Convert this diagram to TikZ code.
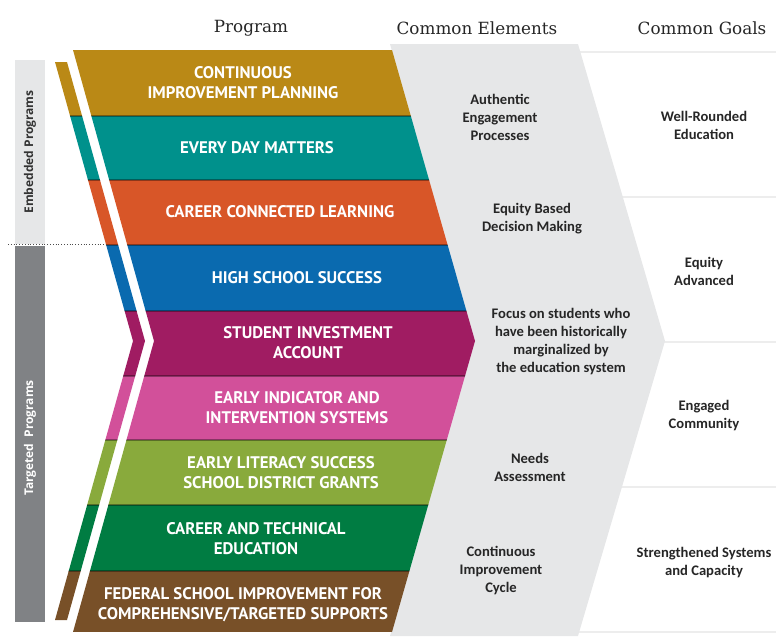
\documentclass[tikz,border=0pt]{standalone}
\usepackage{fontspec}
\newfontfamily\headfont{DejaVu Serif}
\newfontfamily\bandfont{PT Sans}
\newfontfamily\bodyfont{Carlito}
\newfontfamily\sidefont{Open Sans}

\definecolor{cgold}{RGB}{186,137,22}
\definecolor{cteal}{RGB}{0,145,140}
\definecolor{corange}{RGB}{216,86,40}
\definecolor{cblue}{RGB}{10,106,175}
\definecolor{cmagenta}{RGB}{160,28,98}
\definecolor{cpink}{RGB}{210,80,154}
\definecolor{clime}{RGB}{137,170,60}
\definecolor{cgreen}{RGB}{0,124,66}
\definecolor{cbrown}{RGB}{120,80,40}
\definecolor{elemgrey}{RGB}{230,231,232}
\definecolor{sidegrey}{RGB}{128,130,133}

\begin{document}
\begin{tikzpicture}[x=1pt,y=-1pt,
  header/.style={font=\headfont\fontsize{16.8}{19}\selectfont, text=black!85},
  progtext/.style={font=\bandfont\bfseries\fontsize{16.8}{20}\selectfont, text=white, align=center},
  elemtext/.style={font=\bodyfont\bfseries\fontsize{14.6}{18}\selectfont, text=black!85, align=center},
  sidetext/.style={font=\sidefont\bfseries\fontsize{12}{13}\selectfont, rotate=90},
  goalline/.style={draw=black!7, line width=2pt},
  bandline/.style={draw=black, opacity=0.35, line width=1.2pt}]

  \useasboundingbox (0,0) rectangle (776,638);

  %% headers
  \node[header] (hprog) at (251,28) {Program};
  \node[header] (helem) at (477,28) {Common Elements};
  \node[header] (hgoal) at (702,28) {Common Goals};

  %% side bars
  \fill[elemgrey] (15,60) rectangle (45,244);
  \fill[sidegrey] (15,246) rectangle (45,622);
  \draw[black!70, dotted, thick] (8,244) -- (110,244);
  \node[sidetext, text=black!80] (embedded) at (30,152) {Embedded Programs};
  \node[sidetext, text=white] (targeted) at (30,438) {Targeted\ \ Programs};

  %% goal separators
  \draw[goalline] (560,52) -- (776,52);
  \draw[goalline] (560,197) -- (776,197);
  \draw[goalline] (560,342) -- (776,342);
  \draw[goalline] (560,487) -- (776,487);
  \draw[goalline] (560,632) -- (776,632);

  %% common elements band
  \fill[elemgrey] (390,44) -- (578,44) -- (665,341) -- (578,636)
    -- (390,636) -- (473,341) -- cycle;

  %% program bands
  \begin{scope}
    \clip (73,50) -- (392,50) -- (475,341) -- (392,632) -- (73,632) -- (154,341) -- cycle
          (55,62) -- (67,62) -- (145,341) -- (67,620) -- (55,620) -- (133,341) -- cycle;
    \fill[cgold] (40,50) rectangle (480,116);
    \fill[cteal] (40,116) rectangle (480,180);
    \fill[corange] (40,180) rectangle (480,245);
    \fill[cblue] (40,245) rectangle (480,311);
    \fill[cmagenta] (40,311) rectangle (480,376);
    \fill[cpink] (40,376) rectangle (480,440);
    \fill[clime] (40,440) rectangle (480,505);
    \fill[cgreen] (40,505) rectangle (480,571);
    \fill[cbrown] (40,571) rectangle (480,632);
    \draw[bandline] (40,116) -- (480,116);
    \draw[bandline] (40,180) -- (480,180);
    \draw[bandline] (40,245) -- (480,245);
    \draw[bandline] (40,311) -- (480,311);
    \draw[bandline] (40,376) -- (480,376);
    \draw[bandline] (40,440) -- (480,440);
    \draw[bandline] (40,505) -- (480,505);
    \draw[bandline] (40,571) -- (480,571);
  \end{scope}

  %% program labels
  \node[progtext] (p1) at (243,83) {CONTINUOUS\\IMPROVEMENT PLANNING};
  \node[progtext] (p2) at (257,148) {EVERY DAY MATTERS};
  \node[progtext] (p3) at (280,212) {CAREER CONNECTED LEARNING};
  \node[progtext] (p4) at (297,278) {HIGH SCHOOL SUCCESS};
  \node[progtext] (p5) at (308,343) {STUDENT INVESTMENT\\ACCOUNT};
  \node[progtext] (p6) at (297,408) {EARLY INDICATOR AND\\INTERVENTION SYSTEMS};
  \node[progtext] (p7) at (281,473) {EARLY LITERACY SUCCESS\\SCHOOL DISTRICT GRANTS};
  \node[progtext] (p8) at (256,539) {CAREER AND TECHNICAL\\EDUCATION};
  \node[progtext] (p9) at (243,605) {FEDERAL SCHOOL IMPROVEMENT FOR\\COMPREHENSIVE/TARGETED SUPPORTS};

  %% common elements
  \node[elemtext] (e1) at (500,117) {Authentic\\Engagement\\Processes};
  \node[elemtext] (e2) at (532,219) {Equity Based\\Decision Making};
  \node[elemtext] (e3) at (561,342) {Focus on students who\\have been historically\\marginalized by\\the education system};
  \node[elemtext] (e4) at (530,467) {Needs\\Assessment};
  \node[elemtext] (e5) at (501,571) {Continuous\\Improvement\\Cycle};

  %% common goals
  \node[elemtext] (g1) at (704,125) {Well-Rounded\\Education};
  \node[elemtext] (g2) at (704,271) {Equity\\Advanced};
  \node[elemtext] (g3) at (704,416) {Engaged\\Community};
  \node[elemtext] (g4) at (704,563) {Strengthened Systems\\and Capacity};

\end{tikzpicture}
\end{document}
